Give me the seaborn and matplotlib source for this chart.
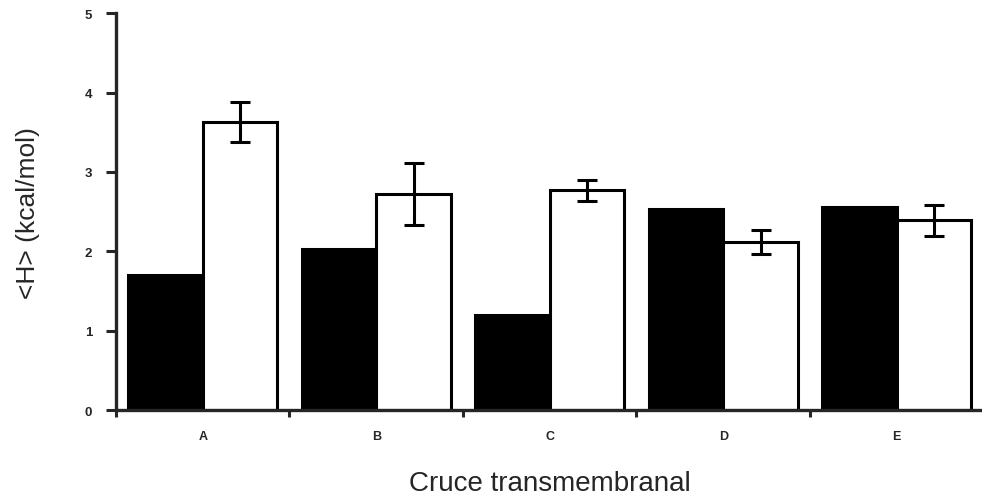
import pandas as pd
import seaborn as sns
import matplotlib
matplotlib.use('Agg')
import matplotlib.pyplot as plt

# values
categories = ['A', 'B', 'C', 'D', 'E']
black_vals = [1.70, 2.03, 1.20, 2.53, 2.56]
white_vals = [3.63, 2.72, 2.77, 2.12, 2.39]
white_err = [0.25, 0.39, 0.13, 0.15, 0.19]
series = ['negro', 'blanco']

df = pd.DataFrame({
    'cruce': categories * 2,
    'serie': [series[0]] * len(categories) + [series[1]] * len(categories),
    'H': black_vals + white_vals,
})

sns.set_style('ticks')
plt.rcParams['font.family'] = ['Liberation Sans', 'DejaVu Sans']

fig = plt.figure(figsize=(9.82, 5.02), dpi=100)
ax = fig.add_axes([0.1181, 0.1803, 0.8834, 0.7918])

sns.barplot(data=df, x='cruce', y='H', hue='serie', hue_order=series,
            palette=['black', 'white'], edgecolor='black', linewidth=2.2,
            width=0.86, gap=0, errorbar=None, legend=False, ax=ax)

# error bars on the white bars
for bar, err in zip(ax.containers[1], white_err):
    xc = bar.get_x() + bar.get_width() / 2
    ax.errorbar(xc, bar.get_height(), yerr=err, fmt='none', ecolor='black',
                elinewidth=2.2, capsize=7, capthick=2.2, zorder=5)

ax.set_xlim(-0.5, 4.5)
ax.set_ylim(0, 5)
ax.set_yticks(range(0, 6))
ax.set_yticklabels([str(v) for v in range(0, 6)], fontsize=9.5, fontweight='bold')

# ticks at category boundaries, labels centered
ax.set_xticks(range(len(categories)))
ax.set_xticklabels(categories, fontsize=9, fontweight='bold')
ax.tick_params(axis='x', which='major', length=0, pad=14)
ax.set_xticks([i - 0.5 for i in range(len(categories) + 1)], minor=True)
ax.tick_params(axis='x', which='minor', length=5, width=2.2, direction='out')
ax.tick_params(axis='y', length=7, width=2.2, direction='out', pad=10)

sns.despine(ax=ax, top=True, right=True)
for side in ['left', 'bottom']:
    ax.spines[side].set_linewidth(2.4)

ax.set_xlabel('Cruce transmembranal', fontsize=20, labelpad=20)
ax.set_ylabel('<H> (kcal/mol)', fontsize=19, labelpad=32)

fig.savefig('out.png', dpi=100)
